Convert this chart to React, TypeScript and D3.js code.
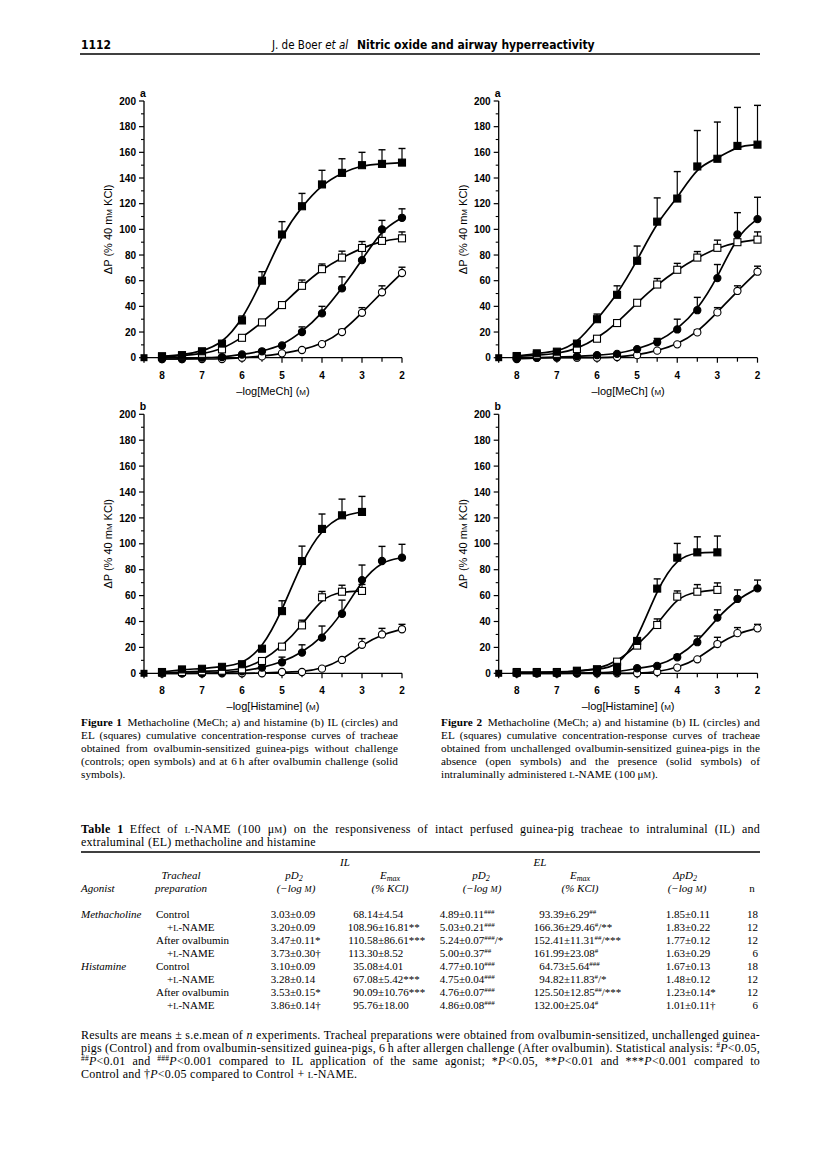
import React, { useLayoutEffect, useRef, useState } from 'react';
import * as d3 from 'd3';

const SANS = "'Liberation Sans', Arial, Helvetica, sans-serif";
const SERIF = "'Liberation Serif', 'Times New Roman', Times, serif";
const NARROW = "'Liberation Sans Narrow', 'DejaVu Sans Condensed', 'Liberation Sans', sans-serif";

// ---------- chart data ----------
// x categories: -log[agonist] (M)
const X_LEVELS = [8, 7.5, 7, 6.5, 6, 5.5, 5, 4.5, 4, 3.5, 3, 2.5, 2];
const X_TICK_LABELS = [8, 7, 6, 5, 4, 3, 2];
const Y_TICK_LABELS = [0, 20, 40, 60, 80, 100, 120, 140, 160, 180, 200];
const Y_MINOR_TICKS = [10, 30, 50, 70, 90, 110, 130, 150, 170, 190];
const BASELINE_X = 8.45; // baseline (no agonist) point, drawn on the y-axis

// Figure 1a (methacholine): open = control, solid = after ovalbumin
const F1A_IL_OPEN = [-1, -1, -1, -1, 0, 1, 3.4, 6, 10.6, 20, 35, 51, 66];
const F1A_IL_OPEN_SEM = [0, 0, 0, 0, 0, 0, 0, 0, 1, 2, 4, 5, 4.5];
const F1A_IL_SOLID = [-1, -1, 0, 0.5, 2.5, 5, 9.5, 20, 34.5, 54, 76, 100, 109];
const F1A_IL_SOLID_SEM = [0, 0, 0, 0, 0, 0, 0, 4, 5.5, 9, 8, 7, 7];
const F1A_EL_OPEN = [1, 1.5, 3, 6.5, 15.5, 27.5, 41, 56, 69, 78, 85.5, 91, 93];
const F1A_EL_OPEN_SEM = [0, 0, 0, 0, 0, 0, 0, 4.5, 4, 5, 5, 7, 5];
const F1A_EL_SOLID = [1, 2, 5, 11, 29, 60, 96, 118, 135, 144, 150, 151, 152];
const F1A_EL_SOLID_SEM = [0, 0, 0, 0, 3.5, 7, 10, 10, 11, 11, 10, 11, 11];

// Figure 1b (histamine)
const F1B_IL_OPEN = [0, 0, 0, 0, 0, 0, 1, 1, 3.6, 10.3, 22, 30, 34];
const F1B_IL_OPEN_SEM = [0, 0, 0, 0, 0, 0, 0, 0, 0, 0, 4.8, 4.7, 3.8];
const F1B_IL_SOLID = [0, 0, 0, 0.5, 1.5, 4.4, 8.5, 16, 27.5, 46, 72, 86.7, 89.3];
const F1B_IL_SOLID_SEM = [0, 0, 0, 0, 0, 0, 4, 6, 9, 10.5, 11.6, 11.3, 10.3];
const F1B_EL_OPEN = [0.5, 1, 1.5, 2, 3, 9.5, 20.6, 37, 58.7, 63, 63.6, null, null];
const F1B_EL_OPEN_SEM = [0, 0, 0, 0, 0, 0, 0, 4, 4.5, 5, 5, 0, 0];
const F1B_EL_SOLID = [1, 3, 3.5, 5, 7, 19, 48, 86.7, 111.5, 122, 124.6, null, null];
const F1B_EL_SOLID_SEM = [0, 0, 0, 0, 0, 0, 8, 11.5, 11.5, 12.5, 12, 0, 0];

// Figure 2a (methacholine): open = absence, solid = presence of L-NAME
const F2A_IL_OPEN = [0, 0, 0, 0, 0, 0.5, 2, 5.5, 10.4, 19.7, 35.3, 52, 67];
const F2A_IL_OPEN_SEM = [0, 0, 0, 0, 0, 0, 0, 0, 1, 2, 3.7, 4, 4.3];
const F2A_IL_SOLID = [-1, 0, 0.5, 1, 2, 3, 6.7, 12, 22, 37, 62, 96, 108];
const F2A_IL_SOLID_SEM = [0, 0, 0, 0, 0, 0, 0, 3, 8, 10, 10.6, 17, 17];
const F2A_EL_OPEN = [1, 2, 3, 6.7, 14.8, 27, 42.8, 57, 68.5, 78, 85.6, 90, 92];
const F2A_EL_OPEN_SEM = [0, 0, 0, 0, 0, 0, 0, 4.7, 5, 4.7, 6, 6, 6];
const F2A_EL_SOLID = [1.3, 3.4, 4.7, 11, 30, 49, 75.5, 106, 124, 149, 155, 165, 166];
const F2A_EL_SOLID_SEM = [0, 0, 0, 0, 4, 7, 11.5, 18.5, 21, 28, 28.6, 30, 30.6];

// Figure 2b (histamine)
const F2B_IL_OPEN = [0, 0, 0, 0, 0, 0, 0, 1, 4.4, 10.8, 22.6, 31, 34.7];
const F2B_IL_OPEN_SEM = [0, 0, 0, 0, 0, 0, 0, 0, 0, 0, 5.2, 4.3, 3.1];
const F2B_IL_SOLID = [0, 0, 0, 0, 0.5, 1, 3.9, 5.7, 12.4, 24, 43, 57.4, 65.6];
const F2B_IL_SOLID_SEM = [0, 0, 0, 0, 0, 0, 0, 0, 2, 4.8, 6, 7, 6.4];
const F2B_EL_OPEN = [1, 1, 1, 1.5, 3, 9, 21.4, 37.3, 59.2, 63, 64.4, null, null];
const F2B_EL_OPEN_SEM = [0, 0, 0, 0, 0, 0, 0, 4.7, 4.4, 5.5, 5.4, 0, 0];
const F2B_EL_SOLID = [0.5, 0.5, 0.5, 2, 3, 5, 25, 65.4, 89.3, 93.4, 93.4, null, null];
const F2B_EL_SOLID_SEM = [0, 0, 0, 0, 0, 0, 0, 7.5, 11, 12, 12.6, 0, 0];

// ---------- table data ----------
const T_AGONIST = ['Methacholine', '', '', '', 'Histamine', '', '', ''];
const T_PREP = ['Control', '+L-NAME', 'After ovalbumin', '+L-NAME', 'Control', '+L-NAME', 'After ovalbumin', '+L-NAME'];
const T_IL_PD2 = ['3.03±0.09', '3.20±0.09', '3.47±0.11*', '3.73±0.30†', '3.10±0.09', '3.28±0.14', '3.53±0.15*', '3.86±0.14†'];
const T_IL_EMAX = ['68.14±4.54', '108.96±16.81**', '110.58±86.61***', '113.30±8.52', '35.08±4.01', '67.08±5.42***', '90.09±10.76***', '95.76±18.00'];
const T_EL_PD2 = ['4.89±0.11^###', '5.03±0.21^###', '5.24±0.07^###/*', '5.00±0.37^##', '4.77±0.10^###', '4.75±0.04^###', '4.76±0.07^###', '4.86±0.08^###'];
const T_EL_EMAX = ['93.39±6.29^##', '166.36±29.46^#/**', '152.41±11.31^##/***', '161.99±23.08^#', '64.73±5.64^###', '94.82±11.83^#/*', '125.50±12.85^##/***', '132.00±25.04^#'];
const T_DELTA = ['1.85±0.11', '1.83±0.22', '1.77±0.12', '1.63±0.29', '1.67±0.13', '1.48±0.12', '1.23±0.14*', '1.01±0.11†'];
const T_N = ['18', '12', '12', '6', '18', '12', '12', '6'];

type Series = { shape: 'circle' | 'square'; filled: boolean; values: (number | null)[]; sem: number[] };

const mk = (shape: 'circle' | 'square', filled: boolean, values: (number | null)[], sem: number[]): Series => ({ shape, filled, values, sem });

const PANEL_1A = [mk('circle', false, F1A_IL_OPEN, F1A_IL_OPEN_SEM), mk('circle', true, F1A_IL_SOLID, F1A_IL_SOLID_SEM), mk('square', false, F1A_EL_OPEN, F1A_EL_OPEN_SEM), mk('square', true, F1A_EL_SOLID, F1A_EL_SOLID_SEM)];
const PANEL_1B = [mk('circle', false, F1B_IL_OPEN, F1B_IL_OPEN_SEM), mk('circle', true, F1B_IL_SOLID, F1B_IL_SOLID_SEM), mk('square', false, F1B_EL_OPEN, F1B_EL_OPEN_SEM), mk('square', true, F1B_EL_SOLID, F1B_EL_SOLID_SEM)];
const PANEL_2A = [mk('circle', false, F2A_IL_OPEN, F2A_IL_OPEN_SEM), mk('circle', true, F2A_IL_SOLID, F2A_IL_SOLID_SEM), mk('square', false, F2A_EL_OPEN, F2A_EL_OPEN_SEM), mk('square', true, F2A_EL_SOLID, F2A_EL_SOLID_SEM)];
const PANEL_2B = [mk('circle', false, F2B_IL_OPEN, F2B_IL_OPEN_SEM), mk('circle', true, F2B_IL_SOLID, F2B_IL_SOLID_SEM), mk('square', false, F2B_EL_OPEN, F2B_EL_OPEN_SEM), mk('square', true, F2B_EL_SOLID, F2B_EL_SOLID_SEM)];

const SC = ({ t, s }: { t: string; s: number }) => <tspan fontSize={s}>{t}</tspan>;

function Panel({ axisX, endX, yTop, yZero, label, agonist, series }: any) {
  const x = d3.scaleLinear().domain([BASELINE_X, 2]).range([axisX, endX]);
  const y = d3.scaleLinear().domain([0, 200]).range([yZero, yTop]);
  const line = d3.line<[number, number]>().x(d => x(d[0])).y(d => y(d[1])).curve(d3.curveBasis);
  const half = 3.5;
  return (
    <g>
      <line x1={axisX} x2={axisX} y1={y(200)} y2={yZero + 5} stroke="#000" strokeWidth={1.3} />
      <line x1={axisX} x2={x(2)} y1={yZero} y2={yZero} stroke="#000" strokeWidth={1.3} />
      {Y_TICK_LABELS.map(v => (
        <g key={'y' + v}>
          <line x1={axisX - 5} x2={axisX} y1={y(v)} y2={y(v)} stroke="#000" strokeWidth={1.2} />
          <text x={axisX - 8} y={y(v) + 3.6} textAnchor="end" fontFamily={SANS} fontSize={10} fontWeight="bold">{v}</text>
        </g>
      ))}
      {Y_MINOR_TICKS.map(v => (
        <line key={'ym' + v} x1={axisX - 3} x2={axisX} y1={y(v)} y2={y(v)} stroke="#000" strokeWidth={1.1} />
      ))}
      {X_LEVELS.map(v => (
        <line key={'x' + v} x1={x(v)} x2={x(v)} y1={yZero} y2={yZero + (Number.isInteger(v) ? 5 : 4)} stroke="#000" strokeWidth={1.2} />
      ))}
      {X_TICK_LABELS.map(v => (
        <text key={'xl' + v} x={x(v)} y={yZero + 21} textAnchor="middle" fontFamily={SANS} fontSize={10} fontWeight="bold">{v}</text>
      ))}
      <text x={(axisX + endX) / 2} y={yZero + 37} textAnchor="middle" fontFamily={SANS} fontSize={11}>
        –log[{agonist}] (<SC t="M" s={8} />)
      </text>
      <text transform={`translate(${axisX - 32},${(y(200) + yZero) / 2}) rotate(-90)`} textAnchor="middle" fontFamily={SANS} fontSize={11}>
        ΔP (% 40 m<SC t="M" s={8} /> KCl)
      </text>
      <text x={axisX - 1} y={y(200) - 4.5} textAnchor="middle" fontFamily={SANS} fontSize={10.5} fontWeight="bold">{label}</text>
      {series.map((s: Series, i: number) => {
        const pts = X_LEVELS.map((xv, j) => [xv, s.values[j]] as [number, number | null]).filter(p => p[1] !== null) as [number, number][];
        return <path key={'c' + i} d={line(pts) || ''} fill="none" stroke="#000" strokeWidth={1.7} />;
      })}
      {series.map((s: Series, i: number) => (
        <g key={'s' + i}>
          {X_LEVELS.map((xv, j) => {
            const v = s.values[j];
            if (v === null || !s.sem[j]) return null;
            const cx = x(xv);
            return (
              <g key={'e' + j}>
                <line x1={cx} x2={cx} y1={y(v)} y2={y(v + s.sem[j])} stroke="#000" strokeWidth={1.2} />
                <line x1={cx - 3.5} x2={cx + 3.5} y1={y(v + s.sem[j])} y2={y(v + s.sem[j])} stroke="#000" strokeWidth={1.4} />
              </g>
            );
          })}
          {X_LEVELS.map((xv, j) => {
            const v = s.values[j];
            if (v === null) return null;
            const cx = x(xv), cy = y(v);
            return s.shape === 'circle'
              ? <circle key={'m' + j} cx={cx} cy={cy} r={3.6} fill={s.filled ? '#000' : '#fff'} stroke="#000" strokeWidth={1.1} />
              : <rect key={'m' + j} x={cx - half} y={cy - half} width={half * 2} height={half * 2} fill={s.filled ? '#000' : '#fff'} stroke="#000" strokeWidth={1.1} />;
          })}
        </g>
      ))}
      <rect x={x(BASELINE_X) - half} y={y(0) - half} width={half * 2} height={half * 2} fill="#000" />
    </g>
  );
}

// A line of text justified to a given width by stretching only the word spaces
function JLine({ x, y, width, children }: { x: number; y: number; width: number; children: any }) {
  const ref = useRef<SVGTextElement>(null);
  const [ws, setWs] = useState(0);
  useLayoutEffect(() => {
    const el = ref.current;
    if (!el) return;
    const len = el.getComputedTextLength();
    const spaces = ((el.textContent || '').match(/[ \u00a0]/g) || []).length;
    if (spaces > 0) setWs((width - len) / spaces);
  }, [width]);
  return <text ref={ref} x={x} y={y} style={{ wordSpacing: `${ws}px` }}>{children}</text>;
}

function Cell({ x, y, s }: { x: number; y: number; s: string }) {
  const [lead, rest] = s.split('±');
  const m = rest.match(/^([^\^]*)(?:\^(#+))?(.*)$/) as RegExpMatchArray;
  return (
    <g>
      <text x={x} y={y} textAnchor="end">{lead}</text>
      <text x={x} y={y}>
        ±{m[1]}
        {m[2] ? <tspan dy={-4} fontSize={7}>{m[2]}</tspan> : null}
        {m[3] ? <tspan dy={m[2] ? 4 : 0}>{m[3]}</tspan> : null}
      </text>
    </g>
  );
}

function Prep({ x, y, s }: { x: number; y: number; s: string }) {
  if (s.startsWith('+L')) {
    return <text x={x + 11} y={y}>+<SC t="L" s={8.5} />-NAME</text>;
  }
  return <text x={x} y={y}>{s}</text>;
}

const LNAME = () => <><tspan fontSize={9}>L</tspan>-NAME</>;
const Sup = ({ t }: { t: string }) => <tspan dy={-4} fontSize={7.5}>{t}</tspan>;

export default function App() {
  const capY = [725.5, 738.5, 751.5, 764.5, 777.5];
  const rowY = T_PREP.map((_, i) => 917.5 + i * 13.1);
  const PM = { ilPd2: 290, ilEmax: 378, elPd2: 459, elEmax: 564, delta: 685 };
  return (
    <svg width={816} height={1161} viewBox="0 0 816 1161" style={{ position: 'absolute', left: 0, top: 0, background: '#fff' }}>
      <rect x={0} y={0} width={816} height={1161} fill="#fff" />
      <text x={81} y={49} fontFamily={NARROW} fontSize={12} fontWeight="bold">1112</text>
      <text x={272} y={49} fontFamily={NARROW} fontSize={11.5}>J. de Boer <tspan fontStyle="italic">et al</tspan></text>
      <text x={357} y={49} fontFamily={NARROW} fontSize={12} fontWeight="bold">Nitric oxide and airway hyperreactivity</text>
      <line x1={80} x2={760} y1={54} y2={54} stroke="#000" strokeWidth={1.5} />

      <Panel axisX={144} endX={402} yTop={101} yZero={357.7} label="a" agonist="MeCh" series={PANEL_1A} />
      <Panel axisX={498.7} endX={757.5} yTop={101} yZero={357.7} label="a" agonist="MeCh" series={PANEL_2A} />
      <Panel axisX={144} endX={402} yTop={414.3} yZero={673.3} label="b" agonist="Histamine" series={PANEL_1B} />
      <Panel axisX={498.7} endX={757.5} yTop={414.3} yZero={673.3} label="b" agonist="Histamine" series={PANEL_2B} />

      <g fontFamily={SERIF} fontSize={11.2} letterSpacing={0.05}>
        <JLine x={81} y={capY[0]} width={317}><tspan fontWeight="bold">Figure 1</tspan>{'\u2002Methacholine (MeCh; a) and histamine (b) IL (circles) and'}</JLine>
        <JLine x={81} y={capY[1]} width={317}>EL (squares) cumulative concentration-response curves of tracheae</JLine>
        <JLine x={81} y={capY[2]} width={317}>obtained from ovalbumin-sensitized guinea-pigs without challenge</JLine>
        <JLine x={81} y={capY[3]} width={317}>(controls; open symbols) and at 6{'\u2009'}h after ovalbumin challenge (solid</JLine>
        <text x={81} y={capY[4]}>symbols).</text>

        <JLine x={441} y={capY[0]} width={319}><tspan fontWeight="bold">Figure 2</tspan>{'\u2002Methacholine (MeCh; a) and histamine (b) IL (circles) and'}</JLine>
        <JLine x={441} y={capY[1]} width={319}>EL (squares) cumulative concentration-response curves of tracheae</JLine>
        <JLine x={441} y={capY[2]} width={319}>obtained from unchallenged ovalbumin-sensitized guinea-pigs in the</JLine>
        <JLine x={441} y={capY[3]} width={319}>absence (open symbols) and the presence (solid symbols) of</JLine>
        <text x={441} y={capY[4]}>intraluminally administered <LNAME /> (100{'\u2009'}μ<SC t="M" s={8.5} />).</text>
      </g>

      <g fontFamily={SERIF} fontSize={12} letterSpacing={0.25}>
        <JLine x={81} y={832.5} width={679}><tspan fontWeight="bold">Table 1</tspan>{'\u2002Effect of '}<LNAME />{' (100 μ'}<SC t="M" s={9} />{') on the responsiveness of intact perfused guinea-pig tracheae to intraluminal (IL) and'}</JLine>
        <text x={81} y={845.5}>extraluminal (EL) methacholine and histamine</text>
        <line x1={81} x2={760} y1={852} y2={852} stroke="#000" strokeWidth={1.5} />
      </g>

      <g fontFamily={SERIF} fontSize={11}>
        <g fontStyle="italic" textAnchor="middle">
          <text x={345} y={865.5}>IL</text>
          <text x={540} y={865.5}>EL</text>
          <text x={181} y={878.5}>Tracheal</text>
          <text x={294} y={878.5}>pD<tspan dy={2.5} fontSize={8}>2</tspan></text>
          <text x={390} y={878.5}>E<tspan dy={2.5} fontSize={8}>max</tspan></text>
          <text x={481} y={878.5}>pD<tspan dy={2.5} fontSize={8}>2</tspan></text>
          <text x={580} y={878.5}>E<tspan dy={2.5} fontSize={8}>max</tspan></text>
          <text x={685} y={878.5}>ΔpD<tspan dy={2.5} fontSize={8}>2</tspan></text>
          <text x={81} y={891.5} textAnchor="start">Agonist</text>
          <text x={181} y={891.5}>preparation</text>
          <text x={296} y={891.5}>(−log <SC t="M" s={8.5} />)</text>
          <text x={390} y={891.5}>(% KCl)</text>
          <text x={482} y={891.5}>(−log <SC t="M" s={8.5} />)</text>
          <text x={580} y={891.5}>(% KCl)</text>
          <text x={687} y={891.5}>(−log <SC t="M" s={8.5} />)</text>
          <text x={752} y={891.5} fontStyle="normal">n</text>
        </g>

        {T_PREP.map((p, i) => (
          <g key={'r' + i}>
            {T_AGONIST[i] ? <text x={81} y={rowY[i]} fontStyle="italic">{T_AGONIST[i]}</text> : null}
            <Prep x={156} y={rowY[i]} s={p} />
            <Cell x={PM.ilPd2} y={rowY[i]} s={T_IL_PD2[i]} />
            <Cell x={PM.ilEmax} y={rowY[i]} s={T_IL_EMAX[i]} />
            <Cell x={PM.elPd2} y={rowY[i]} s={T_EL_PD2[i]} />
            <Cell x={PM.elEmax} y={rowY[i]} s={T_EL_EMAX[i]} />
            <Cell x={PM.delta} y={rowY[i]} s={T_DELTA[i]} />
            <text x={758} y={rowY[i]} textAnchor="end">{T_N[i]}</text>
          </g>
        ))}
      </g>

      <g fontFamily={SERIF} fontSize={12} letterSpacing={0.25}>
        <JLine x={81} y={1038.5} width={679}>Results are means ± s.e.mean of <tspan fontStyle="italic">n</tspan> experiments. Tracheal preparations were obtained from ovalbumin-sensitized, unchallenged guinea-</JLine>
        <JLine x={81} y={1051.5} width={679}>pigs (Control) and from ovalbumin-sensitized guinea-pigs, 6{'\u2009'}h after allergen challenge (After ovalbumin). Statistical analysis: <Sup t="#" /><tspan dy={4} fontStyle="italic">P</tspan>{'<0.05,'}</JLine>
        <JLine x={81} y={1064.5} width={679}><Sup t="##" /><tspan dy={4} fontStyle="italic">P</tspan>{'<0.01 and '}<Sup t="###" /><tspan dy={4} fontStyle="italic">P</tspan>{'<0.001 compared to IL application of the same agonist; *'}<tspan fontStyle="italic">P</tspan>{'<0.05, **'}<tspan fontStyle="italic">P</tspan>{'<0.01 and ***'}<tspan fontStyle="italic">P</tspan>{'<0.001 compared to'}</JLine>
        <text x={81} y={1077.5}>Control and †<tspan fontStyle="italic">P</tspan>{'<0.05 compared to Control + '}<LNAME />.</text>
      </g>
    </svg>
  );
}
